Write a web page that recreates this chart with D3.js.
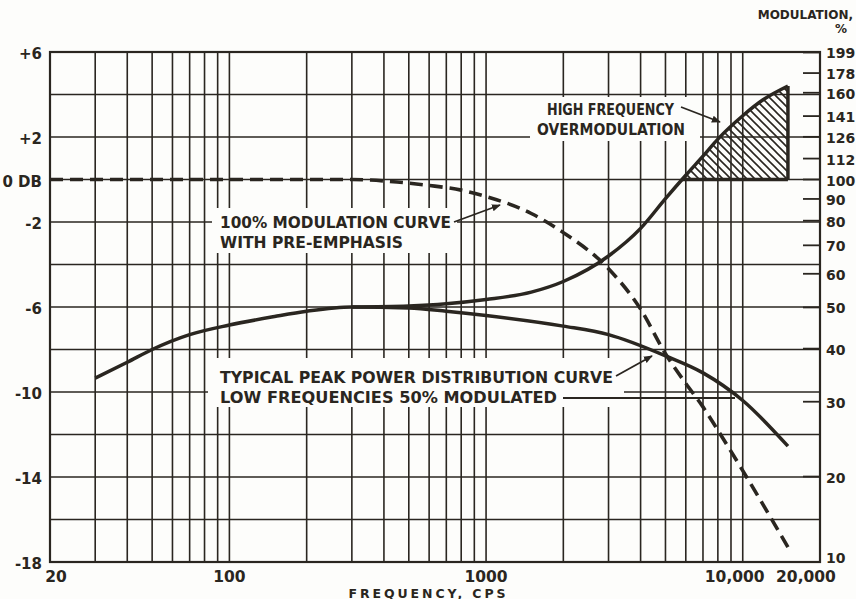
<!DOCTYPE html>
<html>
<head>
<meta charset="utf-8">
<script src="https://cdn.jsdelivr.net/npm/d3@7/dist/d3.min.js"></script>
<style>
  html, body { margin: 0; padding: 0; background: #fdfdfb; }
  svg { display: block; }
  text { font-family: "DejaVu Sans", "Liberation Sans", sans-serif; font-weight: bold; fill: #2a2620; }
</style>
</head>
<body>
<svg id="chart" width="856" height="599"></svg>
<script>
// ---- data ----
// frequency grid (cps) and level grid (dB)
const freqGrid = [30, 40, 50, 60, 70, 80, 90, 100, 200, 300, 400, 500, 600, 700, 800, 900, 1000,
                  2000, 3000, 4000, 5000, 6000, 7000, 8000, 9000, 10000];
const dbGrid = [-16, -14, -12, -10, -8, -6, -4, -2, 0, 2, 4];
const freqTicks = [20, 100, 1000, 10000, 20000];
const freqTickLabels = ["20", "100", "1000", "10,000", "20,000"];
const dbTicks = [6, 2, 0, -2, -6, -10, -14, -18];
const dbTickLabels = ["+6", "+2", "0 DB", "-2", "-6", "-10", "-14", "-18"];
const modTicks = [199, 178, 160, 141, 126, 112, 100, 90, 80, 70, 60, 50, 40, 30, 20, 10];

// typical peak power distribution, low frequencies 50% modulated
const peakFreq = [30, 40, 50, 70, 100, 150, 200, 300, 500, 700, 1000, 2000, 3000, 5000, 7000, 10000, 15000];
const peakDb   = [-9.35, -8.6, -8.0, -7.3, -6.85, -6.45, -6.2, -6.0, -6.05, -6.2, -6.4, -6.9, -7.3, -8.3, -9.1, -10.4, -12.55];

// peak power distribution after pre-emphasis
const emphFreq = [300, 500, 700, 1000, 1500, 2000, 3000, 4000, 5000, 6000, 7000, 8000, 10000, 12000, 15000];
const emphDb   = [-6.0, -5.95, -5.85, -5.65, -5.3, -4.8, -3.6, -2.3, -0.9, 0.2, 1.1, 1.9, 3.0, 3.75, 4.4];

// 100% modulation curve with pre-emphasis
const fullFreq = [20, 300, 450, 600, 800, 1000, 1500, 2000, 3000, 4000, 5000, 6000, 7000, 8000, 10000, 12000, 15000];
const fullDb   = [0, 0, -0.12, -0.28, -0.5, -0.8, -1.6, -2.5, -4.2, -6.1, -8.2, -9.6, -10.7, -11.8, -13.7, -15.3, -17.3];

// ---- drawing ----
const ink = "#2a2620";
const paper = "#fdfdfb";
const svg = d3.select("#chart");
const x = d3.scaleLog().domain([20, 20000]).range([50, 820]);
const y = d3.scaleLinear().domain([-18, 6]).range([562, 52]).clamp(true);

const zip = (fs, ds) => fs.map((f, i) => ({ f, db: ds[i] }));
const peak = zip(peakFreq, peakDb);
const emph = zip(emphFreq, emphDb);
const full = zip(fullFreq, fullDb);

const defs = svg.append("defs");
const hatch = defs.append("pattern")
  .attr("id", "hatch").attr("patternUnits", "userSpaceOnUse")
  .attr("width", 8).attr("height", 8);
hatch.append("path")
  .attr("d", "M-2,-2 L10,10 M-2,6 L2,10 M6,-2 L10,2")
  .attr("stroke", ink).attr("stroke-width", 1.6);
defs.append("marker")
  .attr("id", "arrow").attr("viewBox", "0 0 10 10")
  .attr("refX", 9).attr("refY", 5)
  .attr("markerWidth", 9).attr("markerHeight", 9)
  .attr("markerUnits", "userSpaceOnUse")
  .attr("orient", "auto")
  .append("path").attr("d", "M0,1 L10,5 L0,9 Z").attr("fill", ink);
defs.append("clipPath").attr("id", "above0")
  .append("rect")
  .attr("x", x(20)).attr("y", y(6))
  .attr("width", x(20000) - x(20)).attr("height", y(0) - y(6));

// grid
const grid = svg.append("g").attr("stroke", ink).attr("stroke-width", 1.6);
grid.selectAll(".vg").data(freqGrid).join("line")
  .attr("x1", d => x(d)).attr("x2", d => x(d))
  .attr("y1", y(6)).attr("y2", y(-18));
grid.selectAll(".hg").data(dbGrid).join("line")
  .attr("x1", x(20)).attr("x2", x(20000))
  .attr("y1", d => y(d)).attr("y2", d => y(d));
svg.append("rect")
  .attr("x", x(20)).attr("y", y(6))
  .attr("width", x(20000) - x(20)).attr("height", y(-18) - y(6))
  .attr("fill", "none").attr("stroke", ink).attr("stroke-width", 2.2);

// right-hand modulation ticks
const modDb = m => 20 * Math.log10(m / 100);
svg.append("g").selectAll("line").data(modTicks).join("line")
  .attr("x1", x(20000) - 17).attr("x2", x(20000))
  .attr("y1", d => y(modDb(d))).attr("y2", d => y(modDb(d)))
  .attr("stroke", ink).attr("stroke-width", 1.8);

// white panels behind the annotations
const panel = (x0, y0, x1, y1) => svg.append("rect")
  .attr("x", x0).attr("y", y0).attr("width", x1 - x0).attr("height", y1 - y0)
  .attr("fill", paper);
panel(212, 208, 457, 253);
panel(208, 358, 624, 407);
panel(530, 97, 700, 141);

// overmodulation hatch
const lineGen = d3.line().x(d => x(d.f)).y(d => y(d.db)).curve(d3.curveMonotoneX);
const hiEmph = emph.filter(d => d.f >= 3000);
svg.append("path")
  .datum(hiEmph)
  .attr("d", d3.area().x(d => x(d.f)).y0(y(0)).y1(d => y(d.db)).curve(d3.curveMonotoneX))
  .attr("clip-path", "url(#above0)")
  .attr("fill", "url(#hatch)");
const last = emph[emph.length - 1];
svg.append("line")
  .attr("x1", x(last.f)).attr("x2", x(last.f))
  .attr("y1", y(0)).attr("y2", y(last.db))
  .attr("stroke", ink).attr("stroke-width", 3.5);
svg.append("line")
  .attr("x1", x(5800)).attr("x2", x(last.f))
  .attr("y1", y(0)).attr("y2", y(0))
  .attr("stroke", ink).attr("stroke-width", 3.5);

// curves
svg.append("path").datum(peak).attr("d", lineGen)
  .attr("fill", "none").attr("stroke", ink).attr("stroke-width", 3.5);
svg.append("path").datum(emph).attr("d", lineGen)
  .attr("fill", "none").attr("stroke", ink).attr("stroke-width", 3.5);
svg.append("path").datum(full).attr("d", lineGen)
  .attr("fill", "none").attr("stroke", ink).attr("stroke-width", 3.6)
  .attr("stroke-dasharray", "13,7");

// left axis labels
svg.append("g").selectAll("text").data(dbTicks).join("text")
  .attr("x", 42).attr("y", d => y(d) + 7)
  .attr("text-anchor", "end").attr("font-size", 15)
  .text((d, i) => dbTickLabels[i]);

// right axis labels (the lowest one sits just above the frequency labels)
svg.append("g").selectAll("text").data(modTicks).join("text")
  .attr("x", 826).attr("y", d => Math.min(y(modDb(d)) + 6, 563))
  .attr("font-size", 14)
  .text(d => d);
svg.append("text").attr("x", 853).attr("y", 19).attr("text-anchor", "end")
  .attr("font-size", 12).text("MODULATION,");
svg.append("text").attr("x", 841).attr("y", 33).attr("text-anchor", "middle")
  .attr("font-size", 12).text("%");

// bottom axis labels
const tickShift = { 20: 6, 10000: -8, 20000: -14 };
svg.append("g").selectAll("text").data(freqTicks).join("text")
  .attr("x", d => x(d) + (tickShift[d] || 0)).attr("y", 582)
  .attr("text-anchor", "middle").attr("font-size", 15.5)
  .text((d, i) => freqTickLabels[i]);
svg.append("text").attr("x", 427).attr("y", 597.5).attr("text-anchor", "middle")
  .attr("font-size", 12.5).attr("textLength", 157).attr("lengthAdjust", "spacing")
  .text("FREQUENCY, CPS");

// annotations
const note = (lines, x0, y0, widths, dy, size) => lines.forEach((t, i) =>
  svg.append("text").attr("x", x0[i]).attr("y", y0 + i * dy)
    .attr("font-size", size).attr("textLength", widths[i]).attr("lengthAdjust", "spacingAndGlyphs")
    .text(t));
const leader = (x1, y1, x2, y2, head) => svg.append("line")
  .attr("x1", x1).attr("y1", y1).attr("x2", x2).attr("y2", y2)
  .attr("stroke", ink).attr("stroke-width", 1.8)
  .attr("marker-end", head ? "url(#arrow)" : null);

note(["HIGH FREQUENCY", "OVERMODULATION"], [547, 537], 115, [127, 148], 20, 15);
leader(681, 107, 720, 122, true);

note(["100% MODULATION CURVE", "WITH PRE-EMPHASIS"], [220, 220], 228, [231, 183], 20, 15);
leader(454, 222, 500, 205, true);

note(["TYPICAL PEAK POWER DISTRIBUTION CURVE", "LOW FREQUENCIES 50% MODULATED"], [220, 220], 383, [393, 337], 20, 15);
leader(616, 376, 652, 356, true);
leader(563, 398, 735, 398, false);
</script>
</body>
</html>
